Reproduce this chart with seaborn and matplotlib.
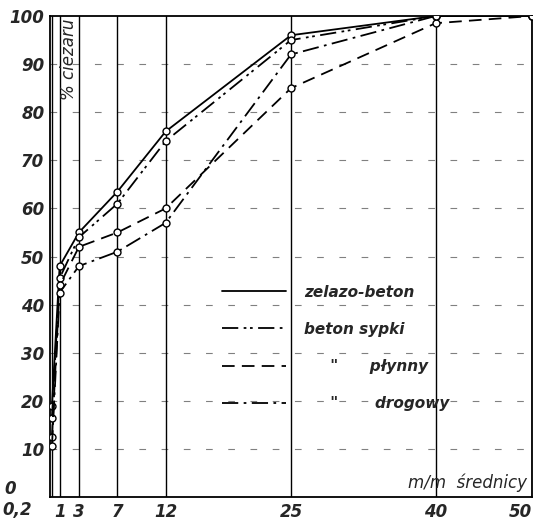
import numpy as np
import pandas as pd
import matplotlib
matplotlib.use("Agg")
import matplotlib.pyplot as plt
from matplotlib.lines import Line2D
import seaborn as sns

sns.set_style("white")
plt.rcParams['font.family'] = ['DejaVu Sans']

# grain diameter (mm) and % by weight passing
diam = [0.2, 1, 3, 7, 12, 25, 40, 50]
tick_labels = ["0,2", "1", "3", "7", "12", "25", "40", "50"]
zelazo_beton = [19, 48, 55, 63.5, 76, 96, 100, 100]
beton_sypki = [16.5, 45.5, 54, 61, 74, 95, 100, 100]
plynny = [12.5, 44, 52, 55, 60, 85, 98.5, 100]
drogowy = [10.5, 42.5, 48, 51, 57, 92, 100, 100]
pct_ticks = list(range(0, 101, 10))

names = ["zelazo-beton", "beton sypki", '     "      płynny', '     "       drogowy']
series = [zelazo_beton, beton_sypki, plynny, drogowy]
styles = ["-", (0, (9, 3, 1.5, 2, 1.5, 3)), (0, (7, 4)), (0, (9, 3, 1.5, 3))]

fig = plt.figure(figsize=(5.42, 5.24), dpi=100)
ax = fig.add_axes([50 / 542, 27 / 524, 482 / 542, 481 / 524])

# faint horizontal grid
for yv in pct_ticks[1:-1]:
    ax.axhline(yv, color="0.5", lw=0.8, ls=(0, (6, 14)), zorder=0)
# vertical lines at the sieve sizes
for xv in diam:
    ax.axvline(xv, color="black", lw=1.0, zorder=1)

for vals, ls in zip(series, styles):
    df = pd.DataFrame({"d": diam, "p": vals})
    sns.lineplot(data=df, x="d", y="p", ax=ax, color="black", lw=1.3,
                 linestyle=ls, marker="o", markersize=5,
                 markerfacecolor="white", markeredgecolor="black",
                 markeredgewidth=1.0, zorder=3)

tick_font = dict(fontsize=12, style="italic", weight="bold")
ax.set_xlim(0, 50)
ax.set_ylim(0, 100)
ax.set_xticks(diam)
ax.set_xticklabels([""] + tick_labels[1:], **tick_font)
ax.get_xticklabels()[-1].set_ha("right")
ax.set_yticks(pct_ticks)
ax.set_yticklabels([""] + [str(v) for v in pct_ticks[1:]], **tick_font)
ax.tick_params(length=0, pad=4)
ax.set_xlabel("")
ax.set_ylabel("")
for s in ax.spines.values():
    s.set_color("black")
    s.set_linewidth(1.3)

# the crowded corner labels, set apart as in the original
fig.text(17 / 542, 1 - 510 / 524, tick_labels[0], ha="center", va="center", **tick_font)
fig.text(10 / 542, 1 - 489 / 524, str(pct_ticks[0]), ha="center", va="center", **tick_font)

ax.text(2.0, 99.5, "% ciezaru", rotation=90, ha="center", va="top",
        fontsize=12, style="italic")
ax.text(49.5, 1, "m/m  średnicy", ha="right", va="bottom",
        fontsize=12, style="italic")

handles = [Line2D([0], [0], color="black", lw=1.3, linestyle=ls) for ls in styles]
leg = ax.legend(handles, names, loc="upper left", bbox_to_anchor=(0.328, 0.47),
                frameon=False, handlelength=4.2, handletextpad=1.2,
                labelspacing=1.45, prop={"style": "italic", "weight": "bold", "size": 11})

fig.savefig("out.png", dpi=100)
